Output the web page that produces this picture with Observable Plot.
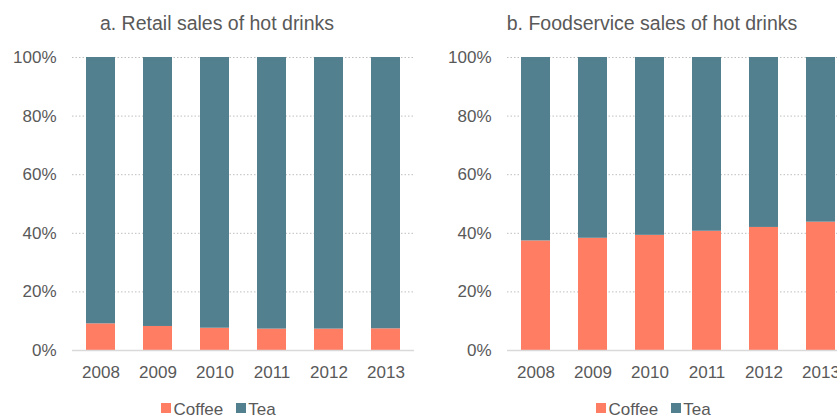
<!DOCTYPE html>
<html>
<head>
<meta charset="utf-8">
<script src="https://cdn.jsdelivr.net/npm/d3@7"></script>
<script src="https://cdn.jsdelivr.net/npm/@observablehq/plot@0.6"></script>
<style>
  html, body { margin: 0; padding: 0; background: #fff; overflow: hidden; }
  #root { position: relative; width: 837px; height: 417px; overflow: hidden; font-family: "Liberation Sans", Arial, sans-serif; color: #595959; }
  .panel { position: absolute; top: 0; }
  .panel svg { max-width: none !important; display: block; }
  .title { position: absolute; top: 14px; font-size: 19.5px; line-height: 1; white-space: nowrap; transform: translateX(-50%); color: #595959; }
  .legend { position: absolute; top: 401.5px; height: 15px; font-size: 17px; line-height: 15px; white-space: nowrap; display: flex; align-items: center; color: #595959; }
  .legend .sw { display: inline-block; width: 10px; height: 10px; margin-right: 2.5px; position: relative; top: -1px; }
  .legend .item { display: inline-flex; align-items: center; margin-right: 12.5px; }
  .legend .item:last-child { margin-right: 0; }
</style>
</head>
<body>
<div id="root"></div>
<script>
const years = ["2008", "2009", "2010", "2011", "2012", "2013"];
const series = ["Coffee", "Tea"];
const seriesColors = ["#FF7D63", "#52808F"];
const retailCoffee = [9.1, 8.2, 7.6, 7.3, 7.3, 7.4];
const retailTea = [90.9, 91.8, 92.4, 92.7, 92.7, 92.6];
const foodCoffee = [37.4, 38.3, 39.3, 40.7, 42.0, 43.8];
const foodTea = [62.6, 61.7, 60.7, 59.3, 58.0, 56.2];
const yTicks = [0, 20, 40, 60, 80, 100];
const titles = ["a. Retail sales of hot drinks", "b. Foodservice sales of hot drinks"];

const root = document.getElementById("root");

function panel(coffee, tea, cfg) {
  const data = years.flatMap((y, i) => [
    {year: y, drink: series[0], share: coffee[i]},
    {year: y, drink: series[1], share: tea[i]}
  ]);
  return Plot.plot({
    width: cfg.width,
    height: 390,
    marginTop: 57,
    marginBottom: 40,
    marginLeft: cfg.marginLeft,
    marginRight: cfg.marginRight,
    style: {fontFamily: "'Liberation Sans', Arial, sans-serif", fontSize: "17px", color: "#595959", background: "transparent", overflow: "visible", maxWidth: "none"},
    x: {domain: years, paddingInner: 0.5, paddingOuter: 0.25, label: null},
    y: {domain: [0, 100], label: null},
    color: {domain: series, range: seriesColors},
    marks: [
      Plot.gridY(yTicks.slice(1), {stroke: "#bfbfbf", strokeOpacity: 1, strokeWidth: 1, strokeDasharray: "1.5,2"}),
      Plot.barY(data, {x: "year", y: "share", fill: "drink"}),
      Plot.ruleY([0], {stroke: "#d9d9d9", strokeWidth: 1.5}),
      Plot.axisX({tickSize: 0, tickPadding: 15, fontSize: 17, label: null}),
      Plot.axisY({ticks: yTicks, tickSize: 0, tickPadding: 16, fontSize: 17, tickFormat: d => d + "%", label: null})
    ]
  });
}

const cfgs = [
  {left: 0, width: 420, marginLeft: 72, marginRight: 6, titleX: 217, legendX: 161, coffee: retailCoffee, tea: retailTea},
  {left: 420, width: 430, marginLeft: 87, marginRight: 1, titleX: 652, legendX: 596, coffee: foodCoffee, tea: foodTea}
];

cfgs.forEach((c, k) => {
  const div = document.createElement("div");
  div.className = "panel";
  div.style.left = c.left + "px";
  div.style.width = c.width + "px";
  div.appendChild(panel(c.coffee, c.tea, c));
  root.appendChild(div);

  const t = document.createElement("div");
  t.className = "title";
  t.style.left = c.titleX + "px";
  t.textContent = titles[k];
  root.appendChild(t);

  const lg = document.createElement("div");
  lg.className = "legend";
  lg.style.left = c.legendX + "px";
  series.forEach((s, i) => {
    const item = document.createElement("span");
    item.className = "item";
    const sw = document.createElement("span");
    sw.className = "sw";
    sw.style.background = seriesColors[i];
    item.appendChild(sw);
    item.appendChild(document.createTextNode(s));
    lg.appendChild(item);
  });
  root.appendChild(lg);
});
</script>
</body>
</html>
